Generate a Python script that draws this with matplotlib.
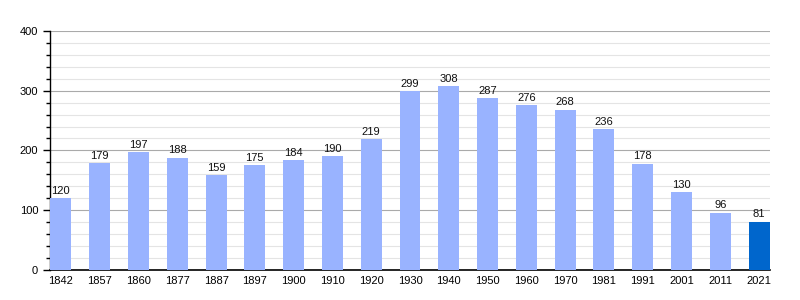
import matplotlib
matplotlib.use("Agg")
import matplotlib.pyplot as plt
from matplotlib.ticker import MultipleLocator

plt.rcParams["font.family"] = ["Liberation Sans", "DejaVu Sans"]

years = ["1842", "1857", "1860", "1877", "1887", "1897", "1900", "1910", "1920", "1930",
         "1940", "1950", "1960", "1970", "1981", "1991", "2001", "2011", "2021"]
population = [120, 179, 197, 188, 159, 175, 184, 190, 219, 299,
              308, 287, 276, 268, 236, 178, 130, 96, 81]

fig = plt.figure(figsize=(8, 3), dpi=100)
ax = fig.add_axes([0.0625, 0.1, 0.9, 0.797])

x = list(range(len(years)))
colors = ["#99b3ff"] * (len(years) - 1) + ["#0066cc"]
ax.bar(x, population, width=0.54, color=colors, zorder=3)
for xi, v in zip(x, population):
    ax.text(xi, v + 4, str(v), ha="center", va="bottom", fontsize=8, color="#111111", zorder=4)

ax.set_xlim(-0.28, len(years) - 1 + 0.28)
ax.set_ylim(0, 400)
ax.set_xticks(x)
ax.set_xticklabels(years, fontsize=8)
ax.tick_params(axis="x", length=0, pad=4)
ax.yaxis.set_major_locator(MultipleLocator(100))
ax.yaxis.set_minor_locator(MultipleLocator(20))
ax.tick_params(axis="y", which="major", length=5, labelsize=8, direction="out", width=1)
ax.tick_params(axis="y", which="minor", length=3, direction="out", width=1)
ax.grid(axis="y", which="major", color="#aaaaaa", linewidth=0.8, zorder=0)
ax.grid(axis="y", which="minor", color="#e4e4e4", linewidth=0.8, zorder=0)
for s in ["top", "right"]:
    ax.spines[s].set_visible(False)
ax.spines["left"].set_linewidth(1)
ax.spines["bottom"].set_linewidth(1.2)

fig.savefig("out.png", dpi=100)
